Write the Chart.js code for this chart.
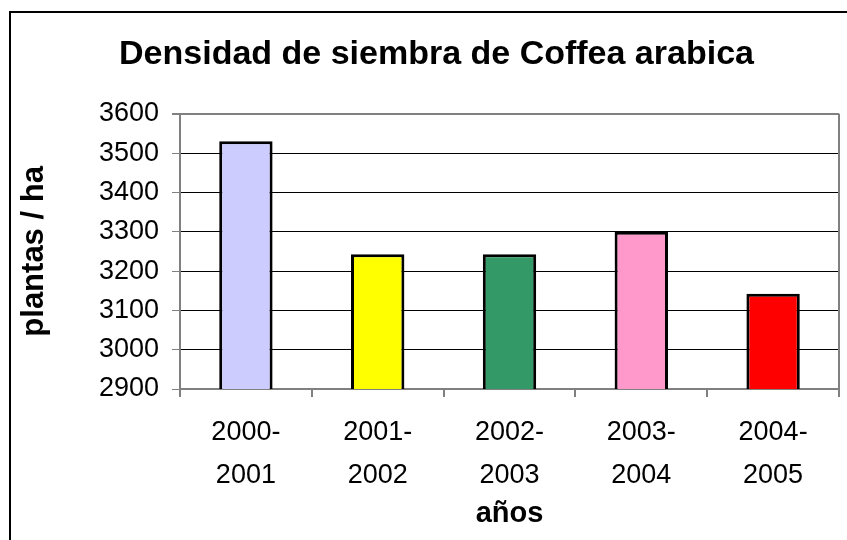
<!DOCTYPE html>
<html>
<head>
<meta charset="utf-8">
<script src="https://cdn.jsdelivr.net/npm/chart.js@4/dist/chart.umd.min.js"></script>
<style>
  body { margin: 0; background: #fff; }
  canvas { display: block; }
</style>
</head>
<body>
<canvas id="densidadChart" width="847" height="540"></canvas>
<script>
// datos
var campanas = [['2000-', '2001'], ['2001-', '2002'], ['2002-', '2003'], ['2003-', '2004'], ['2004-', '2005']];
var plantasHa = [3530, 3243, 3243, 3300, 3142];
var colores = ['#CCCCFF', '#FFFF00', '#339966', '#FF99CC', '#FF0000'];
var yMin = 2900, yMax = 3600, yPaso = 100;

var fuente = "'Liberation Sans', Arial, sans-serif";

// marco exterior y borde derecho del area de trazado
var marcoPlugin = {
    id: 'marco',
    beforeDraw: function (chart) {
        var ctx = chart.ctx;
        ctx.save();
        ctx.strokeStyle = '#000';
        ctx.lineWidth = 2;
        ctx.beginPath();
        ctx.moveTo(10, chart.height);
        ctx.lineTo(10, 12);
        ctx.lineTo(chart.width, 12);
        ctx.stroke();
        ctx.restore();
    },
    afterDraw: function (chart) {
        var a = chart.chartArea, ctx = chart.ctx;
        ctx.save();
        ctx.strokeStyle = '#808080';
        ctx.lineWidth = 2;
        ctx.beginPath();
        ctx.moveTo(a.right, a.top);
        ctx.lineTo(a.right, a.bottom);
        ctx.stroke();
        ctx.restore();
    }
};

var ctx = document.getElementById('densidadChart').getContext('2d');
var densidadChart = new Chart(ctx, {
    type: 'bar',
    data: {
        labels: campanas,
        datasets: [{
            label: 'plantas / ha',
            data: plantasHa,
            backgroundColor: colores,
            borderColor: '#000',
            borderWidth: 3,
            barPercentage: 0.405,
            categoryPercentage: 1
        }]
    },
    options: {
        responsive: false,
        animation: false,
        layout: { padding: { left: 34, right: 8, top: 0, bottom: 0 } },
        plugins: {
            legend: { display: false },
            tooltip: { enabled: false },
            title: {
                display: true,
                text: 'Densidad de siembra de Coffea arabica',
                color: '#000',
                font: { family: fuente, size: 34, weight: 'bold' },
                padding: { top: 34, bottom: 39 }
            }
        },
        scales: {
            x: {
                afterFit: function (s) { s.height = 151; s.paddingLeft = 0; s.paddingRight = 0; },
                grid: { drawOnChartArea: false, color: '#808080', tickLength: 8, lineWidth: 2 },
                border: { color: '#808080', width: 2 },
                ticks: {
                    color: '#000',
                    font: { family: fuente, size: 27, lineHeight: 1.6 },
                    padding: 14,
                    maxRotation: 0,
                    autoSkip: false
                },
                title: {
                    display: true,
                    text: 'años',
                    color: '#000',
                    font: { family: fuente, size: 29, weight: 'bold' },
                    padding: { top: 0, bottom: 9 }
                }
            },
            y: {
                min: yMin,
                max: yMax,
                afterFit: function (s) { s.width = 146; s.paddingTop = 0; s.paddingBottom = 0; },
                grid: {
                    color: function (c) { return c.tick && c.tick.value === yMax ? '#808080' : '#000'; },
                    lineWidth: function (c) { return c.tick && c.tick.value === yMax ? 2 : 1; },
                    tickColor: '#808080',
                    tickLength: 8
                },
                border: { color: '#808080', width: 2 },
                ticks: {
                    stepSize: yPaso,
                    color: '#000',
                    font: { family: fuente, size: 27 },
                    padding: 13,
                    callback: function (v) { return String(v); }
                },
                title: {
                    display: true,
                    text: 'plantas / ha',
                    color: '#000',
                    font: { family: fuente, size: 31, weight: 'bold' },
                    padding: { top: -18, bottom: 0 }
                }
            }
        }
    },
    plugins: [marcoPlugin]
});
</script>
</body>
</html>
